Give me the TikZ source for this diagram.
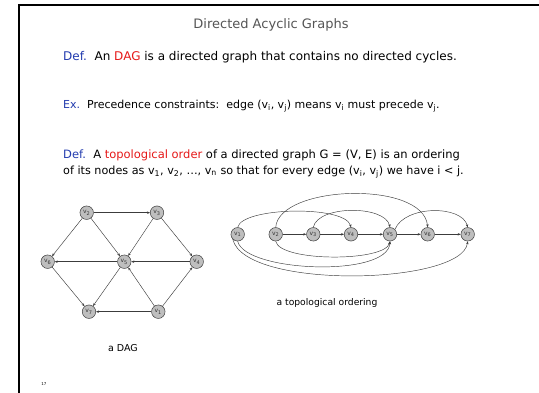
\documentclass[tikz,border=0pt]{standalone}
\usepackage{fontspec}
\setmainfont{DejaVu Sans}
\usetikzlibrary{arrows.meta}
\definecolor{defblue}{RGB}{35,60,175}
\definecolor{hired}{RGB}{230,25,25}
\definecolor{titlegray}{RGB}{85,85,85}
\definecolor{nodegray}{RGB}{190,190,190}
\definecolor{edgegray}{RGB}{60,60,60}
\tikzset{
  vtx/.style={circle,draw=edgegray,fill=nodegray,line width=0.5pt,minimum size=13.5pt,inner sep=0pt,font=\fontsize{6}{7}\selectfont,text=black!80},
  edge/.style={draw=edgegray,line width=0.45pt,-{Stealth[length=3pt,width=2.4pt]}},
  body/.style={anchor=west,inner sep=0pt},
}
\newcommand{\vv}[1]{v\textsubscript{#1}}
\begin{document}
\begin{tikzpicture}[x=1pt,y=-1pt]
\useasboundingbox (0,0) rectangle (539,393);
\fill[white] (0,0) rectangle (539,393);
\draw[line width=1.6pt] (19,393) -- (19,5) -- (539,5);
\node[font=\fontsize{13}{15}\selectfont,text=titlegray] (title) at (271,25) {Directed Acyclic Graphs};
\node[body,font=\fontsize{12}{14}\selectfont] (d1) at (63,57) {\textcolor{defblue}{Def.}\ \ An \textcolor{hired}{DAG} is a directed graph that contains no directed cycles.};
\node[body,font=\fontsize{11}{13}\selectfont] (ex) at (63,106) {\textcolor{defblue}{Ex.}\ \ Precedence constraints:\ \ edge (\vv{i}, \vv{j}) means \vv{i} must precede \vv{j}.};
\node[body,font=\fontsize{11.5}{13}\selectfont] (d2) at (63,155) {\textcolor{defblue}{Def.}\ \ A \textcolor{hired}{topological order} of a directed graph G = (V, E) is an ordering};
\node[body,font=\fontsize{11.2}{13}\selectfont] (d3) at (63,172) {of its nodes as \vv{1}, \vv{2}, \dots, \vv{n} so that for every edge (\vv{i}, \vv{j}) we have i < j.};
% left DAG
\node[vtx] (a2) at (86.7,212.7) {\vv{2}};
\node[vtx] (a3) at (157,212.7) {\vv{3}};
\node[vtx] (a6) at (47.7,261.7) {\vv{6}};
\node[vtx] (a5) at (124.3,261.7) {\vv{5}};
\node[vtx] (a4) at (196.7,261.7) {\vv{4}};
\node[vtx] (a7) at (89,311.7) {\vv{7}};
\node[vtx] (a1) at (158.3,311.7) {\vv{1}};
\draw[edge] (a2) -- (a3);
\draw[edge] (a2) -- (a6);
\draw[edge] (a2) -- (a5);
\draw[edge] (a3) -- (a5);
\draw[edge] (a3) -- (a4);
\draw[edge] (a5) -- (a6);
\draw[edge] (a4) -- (a5);
\draw[edge] (a6) -- (a7);
\draw[edge] (a5) -- (a7);
\draw[edge] (a1) -- (a5);
\draw[edge] (a1) -- (a4);
\draw[edge] (a1) -- (a7);
\node[font=\fontsize{9.5}{11}\selectfont] (cap1) at (123,348) {a DAG};
% right topological ordering
\node[vtx] (b1) at (237.7,234.3) {\vv{1}};
\node[vtx] (b2) at (275.7,234.3) {\vv{2}};
\node[vtx] (b3) at (313.3,234.3) {\vv{3}};
\node[vtx] (b4) at (351,234.3) {\vv{4}};
\node[vtx] (b5) at (390,234.3) {\vv{5}};
\node[vtx] (b6) at (427.7,234.3) {\vv{6}};
\node[vtx] (b7) at (467.7,234.3) {\vv{7}};
\draw[edge] (b2) -- (b3);
\draw[edge] (b3) -- (b4);
\draw[edge] (b4) -- (b5);
\draw[edge] (b5) -- (b6);
\draw[edge] (b6) -- (b7);
\draw[edge] (b1.north) .. controls (242,207) and (345,205) .. (b4.north);
\draw[edge] (b3.north) .. controls (318,205) and (385,205) .. (b5.north);
\draw[edge] (b2.north) .. controls (279,185) and (423,180) .. (b6.north);
\draw[edge] (b5.north east) .. controls (405,205) and (462,205) .. (b7.north);
\draw[edge] (b2.south) .. controls (280,262) and (385,262) .. (b5.south);
\draw[edge] (b1.south) .. controls (245,272) and (388,278) .. (b5.south);
\draw[edge] (b1.south west) .. controls (245,290) and (462,285) .. (b7.south);
\node[font=\fontsize{9.2}{11}\selectfont] (cap2) at (327,303) {a topological ordering};
\node[font=\fontsize{4}{5}\selectfont] (pg) at (44,384) {17};
\end{tikzpicture}
\end{document}
